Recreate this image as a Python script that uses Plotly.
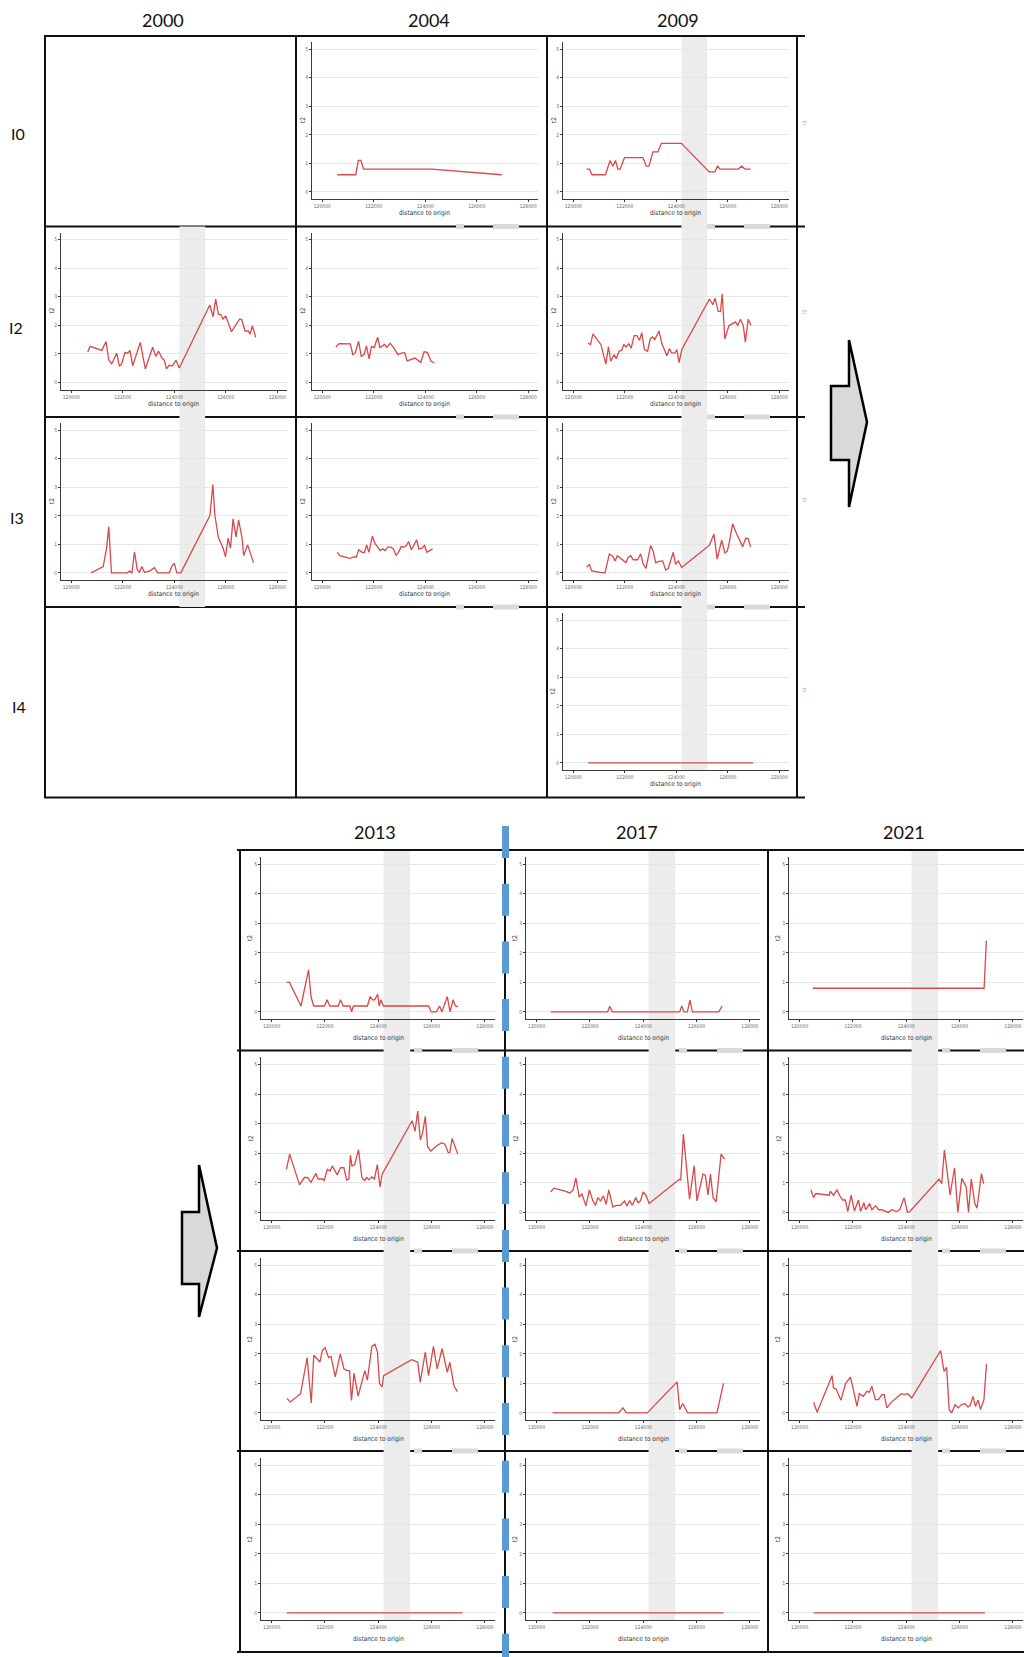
import plotly.graph_objects as go

# ---------------------------------------------------------------------------
# Series: distance to origin (x) and t2 (y), one pair per year / level
# ---------------------------------------------------------------------------
x_2004_i0 = [120580, 121300, 121400, 121500, 121600, 124250, 126970]
t2_2004_i0 = [0.6, 0.6, 1.1, 1.1, 0.8, 0.8, 0.6]

x_2009_i0 = [120520, 120625, 120730, 121250, 121430, 121535, 121640, 121730, 121820, 121990,
             122705, 122835, 122940, 123095, 123290, 123420, 124200, 125280, 125500, 125605,
             125695, 126410, 126545, 126670, 126895]
t2_2009_i0 = [0.8, 0.8, 0.6, 0.6, 1.1, 0.9, 1.1, 0.8, 0.8, 1.2,
              1.2, 0.9, 0.9, 1.4, 1.4, 1.7, 1.7, 0.7, 0.7, 0.9,
              0.8, 0.8, 0.9, 0.8, 0.8]

x_2000_i2 = [120640, 120730, 121185, 121350, 121455, 121570, 121765, 121870, 121955, 122085,
             122190, 122280, 122385, 122680, 122875, 123160, 123285, 123390, 123520, 123610,
             123700, 123805, 123935, 124065, 124195, 125380, 125510, 125610, 125715, 125805,
             125900, 126000, 126220, 126350, 126545, 126620, 126750, 126880, 126945, 127035,
             127165]
t2_2000_i2 = [1.06, 1.26, 1.12, 1.43, 0.79, 0.65, 1.02, 0.56, 0.65, 1.05,
              1.02, 1.12, 0.58, 1.40, 0.47, 1.23, 0.91, 1.10, 0.85, 0.78,
              0.47, 0.60, 0.58, 0.78, 0.50, 2.71, 2.30, 2.92, 2.38, 2.38,
              2.22, 2.33, 1.78, 1.95, 2.22, 2.20, 1.80, 1.80, 1.69, 1.98,
              1.58]

x_2004_i2 = [120525, 120655, 121090, 121185, 121280, 121410, 121515, 121620, 121715, 121820,
             121910, 122020, 122150, 122240, 122415, 122505, 122635, 122770, 122940, 123100,
             123205, 123295, 123600, 123825, 123955, 124085, 124220, 124355]
t2_2004_i2 = [1.24, 1.36, 1.35, 0.97, 1.03, 1.44, 0.91, 0.97, 1.28, 0.82,
              1.26, 1.22, 1.58, 1.22, 1.33, 1.22, 1.37, 1.22, 0.97, 1.03,
              1.03, 0.75, 0.85, 0.70, 1.07, 1.05, 0.75, 0.68]

x_2009_i2 = [120570, 120670, 120760, 121075, 121265, 121365, 121455, 121585, 121670, 121775,
             121870, 121965, 122050, 122155, 122250, 122365, 122470, 122570, 122660, 122760,
             122885, 122990, 123075, 123165, 123330, 123445, 123635, 123735, 123825, 123950,
             124025, 124110, 124215, 125290, 125420, 125505, 125630, 125720, 125785, 125885,
             126050, 126200, 126305, 126390, 126495, 126605, 126685, 126795, 126900]
t2_2009_i2 = [1.38, 1.32, 1.70, 1.32, 0.64, 1.24, 0.74, 0.97, 0.83, 1.09,
              1.12, 1.32, 1.24, 1.35, 1.20, 1.64, 1.64, 1.47, 1.74, 1.15,
              1.09, 1.53, 1.59, 1.50, 1.80, 1.35, 0.93, 1.18, 1.03, 1.03,
              1.15, 0.69, 1.15, 2.92, 2.72, 2.95, 2.49, 2.49, 3.10, 1.52,
              1.99, 2.05, 2.12, 1.99, 2.21, 1.99, 1.41, 2.21, 2.00]

x_2000_i3 = [120765, 121240, 121365, 121455, 121560, 122175, 122265, 122355, 122455, 122560,
             122650, 122740, 122845, 123035, 123230, 123355, 123805, 123910, 124000, 124100,
             124255, 125385, 125500, 125580, 125710, 125900, 125990, 126095, 126185, 126285,
             126400, 126500, 126635, 126695, 126850, 126925, 127080]
t2_2000_i3 = [0.0, 0.22, 0.84, 1.61, 0.0, 0.0, 0.06, 0.0, 0.74, 0.12,
              0.02, 0.22, 0.02, 0.06, 0.18, 0.0, 0.0, 0.24, 0.34, 0.0,
              0.0, 2.01, 3.09, 2.01, 1.26, 0.86, 0.56, 1.22, 0.86, 1.89,
              1.26, 1.85, 1.22, 0.60, 0.98, 0.78, 0.36]

x_2004_i3 = [120580, 120685, 121085, 121240, 121320, 121415, 121550, 121640, 121720, 121810,
             121945, 122050, 122145, 122245, 122340, 122445, 122540, 122670, 122760, 122870,
             122960, 123065, 123175, 123265, 123355, 123465, 123665, 123755, 123860, 123970,
             124060, 124150, 124285]
t2_2004_i3 = [0.72, 0.60, 0.51, 0.57, 0.55, 0.81, 0.72, 0.72, 0.98, 0.72,
              1.29, 1.02, 0.92, 0.78, 0.84, 0.78, 0.90, 0.90, 0.84, 0.62,
              0.72, 0.92, 0.90, 0.96, 1.10, 0.81, 1.16, 0.84, 0.86, 0.96,
              0.72, 0.78, 0.84]

x_2009_i3 = [120520, 120620, 120715, 120845, 121035, 121230, 121400, 121530, 121620, 121710,
             121880, 122045, 122135, 122230, 122330, 122500, 122615, 122720, 122825, 123005,
             123105, 123200, 123330, 123470, 123590, 123690, 123885, 123975, 124080, 124210,
             125280, 125465, 125590, 125765, 125890, 125980, 126060, 126190, 126320, 126435,
             126580, 126695, 126795, 126890]
t2_2009_i3 = [0.19, 0.30, 0.07, 0.04, 0.02, 0.0, 0.66, 0.58, 0.42, 0.60,
              0.48, 0.36, 0.55, 0.60, 0.46, 0.46, 0.66, 0.30, 0.16, 0.96,
              0.75, 0.36, 0.40, 0.42, 0.10, 0.16, 0.72, 0.30, 0.42, 0.19,
              0.96, 1.36, 0.48, 1.15, 0.70, 0.75, 1.06, 1.72, 1.42, 1.18,
              0.91, 1.21, 1.20, 0.90]

x_2009_i4 = [120585, 126990]
t2_2009_i4 = [0.0, 0.0]

x_2013_i0 = [120565, 120670, 121100, 121385, 121475, 121575, 121980, 122080, 122180, 122500,
             122585, 122685, 122935, 123000, 123065, 123595, 123695, 123785, 123870, 123975,
             124035, 124100, 124195, 125885, 125985, 126175, 126300, 126390, 126590, 126695,
             126805, 126895, 126995]
t2_2013_i0 = [1.0, 1.0, 0.2, 1.42, 0.52, 0.2, 0.2, 0.41, 0.2, 0.2,
              0.41, 0.2, 0.2, 0.0, 0.2, 0.2, 0.52, 0.41, 0.41, 0.6,
              0.2, 0.41, 0.2, 0.2, 0.0, 0.0, 0.2, 0.0, 0.52, 0.0,
              0.41, 0.2, 0.18]

x_2017_i0 = [120530, 122660, 122745, 122835, 125365, 125445, 125530, 125655, 125750, 125845,
             126835, 126960]
t2_2017_i0 = [0.0, 0.0, 0.19, 0.0, 0.0, 0.2, 0.0, 0.0, 0.4, 0.0, 0.0, 0.2]

x_2021_i0 = [120490, 126920, 127005]
t2_2021_i0 = [0.8, 0.8, 2.41]

x_2013_i2 = [120555, 120675, 121045, 121230, 121350, 121475, 121660, 121745, 121905, 121970,
             122090, 122190, 122275, 122460, 122585, 122710, 122810, 122895, 122955, 123015,
             123115, 123260, 123385, 123485, 123570, 123655, 123755, 123855, 123965, 124065,
             124150, 125270, 125380, 125480, 125580, 125665, 125765, 125850, 125970, 126155,
             126375, 126500, 126625, 126685, 126770, 126980]
t2_2013_i2 = [1.46, 1.97, 0.93, 1.18, 1.18, 1.02, 1.32, 1.13, 1.13, 1.08,
              1.46, 1.40, 1.57, 1.27, 1.51, 1.51, 1.10, 1.13, 1.93, 1.57,
              1.62, 2.12, 1.18, 1.08, 1.18, 1.10, 1.20, 1.13, 1.62, 0.86,
              1.30, 3.10, 2.74, 3.43, 2.45, 2.70, 3.25, 2.23, 2.07, 2.23,
              2.36, 2.31, 2.02, 2.02, 2.50, 1.98]

x_2017_i2 = [120525, 120650, 121030, 121245, 121370, 121470, 121595, 121700, 121850, 121980,
             122105, 122205, 122295, 122395, 122505, 122605, 122705, 122860, 122985, 123150,
             123300, 123390, 123490, 123590, 123720, 123805, 123895, 123995, 124095, 124220,
             125355, 125405, 125505, 125695, 125735, 125910, 126015, 126240, 126330, 126430,
             126520, 126620, 126735, 126920, 127050]
t2_2017_i2 = [0.69, 0.82, 0.73, 0.66, 0.76, 1.17, 0.52, 0.62, 0.22, 0.76,
              0.40, 0.24, 0.50, 0.39, 0.56, 0.27, 0.76, 0.18, 0.24, 0.24,
              0.39, 0.22, 0.40, 0.24, 0.50, 0.33, 0.39, 0.69, 0.59, 0.30,
              1.12, 1.09, 2.65, 0.82, 0.45, 1.58, 0.39, 1.30, 1.25, 0.59,
              1.30, 0.50, 0.36, 1.97, 1.80]

x_2021_i2 = [120420, 120520, 120610, 121110, 121150, 121275, 121400, 121490, 121615, 121715,
             121805, 121930, 122055, 122205, 122285, 122410, 122475, 122625, 122710, 122850,
             122965, 123065, 123315, 123465, 123630, 123755, 123920, 124045, 124135, 125230,
             125330, 125430, 125645, 125810, 125935, 126085, 126250, 126335, 126440, 126565,
             126655, 126820, 126905]
t2_2021_i2 = [0.77, 0.50, 0.64, 0.58, 0.72, 0.58, 0.77, 0.58, 0.42, 0.42,
              0.03, 0.58, 0.05, 0.42, 0.03, 0.33, 0.09, 0.30, 0.09, 0.22,
              0.09, 0.09, 0.0, 0.09, 0.03, 0.09, 0.50, 0.0, 0.03, 1.13,
              0.97, 2.11, 0.58, 1.51, 0.0, 1.15, 0.85, 0.0, 1.13, 0.33,
              0.14, 1.31, 0.97]

x_2013_i3 = [120570, 120700, 121085, 121295, 121330, 121485, 121580, 121810, 121905, 122005,
             122135, 122230, 122385, 122575, 122710, 122825, 122920, 122995, 123090, 123245,
             123495, 123590, 123760, 123875, 123970, 124045, 124145, 124200, 125250, 125480,
             125575, 125765, 125885, 126070, 126210, 126395, 126590, 126685, 126840, 126970]
t2_2013_i3 = [0.49, 0.37, 0.65, 1.83, 1.87, 0.34, 1.95, 1.72, 2.12, 2.21,
              1.87, 1.91, 1.22, 2.00, 1.49, 1.43, 1.43, 0.42, 1.34, 0.57,
              1.43, 1.11, 2.25, 2.32, 2.06, 1.00, 0.88, 1.26, 1.80, 1.72,
              1.03, 2.06, 1.26, 2.25, 1.49, 2.17, 1.37, 1.72, 0.92, 0.72]

x_2017_i3 = [120600, 123080, 123235, 123365, 124150, 125270, 125365, 125480, 125665, 126765,
             127010]
t2_2017_i3 = [0.0, 0.0, 0.17, 0.0, 0.0, 1.05, 0.11, 0.32, 0.0, 0.0, 1.0]

x_2021_i3 = [120525, 120655, 121215, 121270, 121365, 121550, 121720, 121905, 122020, 122150,
             122240, 122390, 122520, 122615, 122710, 122840, 122955, 123085, 123175, 123270,
             123420, 123550, 123700, 123830, 123925, 124055, 124205, 125290, 125420, 125515,
             125610, 125700, 125835, 125945, 126075, 126205, 126315, 126395, 126505, 126595,
             126695, 126785, 126915, 127010]
t2_2021_i3 = [0.36, 0.02, 1.26, 0.84, 0.81, 0.43, 0.99, 1.21, 0.76, 0.22,
              0.65, 0.56, 0.73, 0.70, 0.90, 0.45, 0.45, 0.62, 0.62, 0.17,
              0.34, 0.45, 0.56, 0.65, 0.62, 0.65, 0.51, 2.11, 1.40, 1.54,
              0.11, 0.0, 0.28, 0.17, 0.28, 0.31, 0.20, 0.25, 0.56, 0.22,
              0.43, 0.11, 0.45, 1.66]

x_2013_i4 = [120570, 127165]
t2_2013_i4 = [0.0, 0.0]
x_2017_i4 = [120600, 127010]
t2_2017_i4 = [0.0, 0.0]
x_2021_i4 = [120525, 126950]
t2_2021_i4 = [0.0, 0.0]

YEARS_TOP = ["2000", "2004", "2009"]
YEARS_BOTTOM = ["2013", "2017", "2021"]
LEVELS = ["I0", "I2", "I3", "I4"]
X_TICKS = [120000, 122000, 124000, 126000, 128000]
T2_TICKS = [0, 1, 2, 3, 4, 5]
BAND = [124200, 125200]          # highlighted stretch of the route

PANELS = [
    ("2004", "I0", x_2004_i0, t2_2004_i0),
    ("2009", "I0", x_2009_i0, t2_2009_i0),
    ("2000", "I2", x_2000_i2, t2_2000_i2),
    ("2004", "I2", x_2004_i2, t2_2004_i2),
    ("2009", "I2", x_2009_i2, t2_2009_i2),
    ("2000", "I3", x_2000_i3, t2_2000_i3),
    ("2004", "I3", x_2004_i3, t2_2004_i3),
    ("2009", "I3", x_2009_i3, t2_2009_i3),
    ("2009", "I4", x_2009_i4, t2_2009_i4),
    ("2013", "I0", x_2013_i0, t2_2013_i0),
    ("2017", "I0", x_2017_i0, t2_2017_i0),
    ("2021", "I0", x_2021_i0, t2_2021_i0),
    ("2013", "I2", x_2013_i2, t2_2013_i2),
    ("2017", "I2", x_2017_i2, t2_2017_i2),
    ("2021", "I2", x_2021_i2, t2_2021_i2),
    ("2013", "I3", x_2013_i3, t2_2013_i3),
    ("2017", "I3", x_2017_i3, t2_2017_i3),
    ("2021", "I3", x_2021_i3, t2_2021_i3),
    ("2013", "I4", x_2013_i4, t2_2013_i4),
    ("2017", "I4", x_2017_i4, t2_2017_i4),
    ("2021", "I4", x_2021_i4, t2_2021_i4),
]

# ---------------------------------------------------------------------------
# Page geometry (pixels)
# ---------------------------------------------------------------------------
FIG_W, FIG_H = 1024, 1657
TOP_COLS = [45, 296, 547, 797]
TOP_ROWS = [36, 226.5, 417, 607, 797.5]
BOT_COLS = [240, 505, 768, 1031]
BOT_ROWS = [850, 1050.5, 1251, 1451, 1652]
X_RANGE = [119600, 128380]
T2_RANGE = [-0.25, 5.25]

RED = "#d94848"
BAND_FILL = "#ececec"
GRID = "#e6e6e6"
AXIS = "#3a3a3a"
NARROW = "Liberation Sans Narrow, DejaVu Sans Condensed, Arial Narrow, sans-serif"
HEAD_FONT = "Lato, Open Sans, sans-serif"


def fx(x):
    return x / FIG_W


def fy(y):
    return 1 - y / FIG_H


def cell_box(year, level):
    r = LEVELS.index(level)
    if year in YEARS_TOP:
        c = YEARS_TOP.index(year)
        return TOP_COLS[c], TOP_COLS[c + 1], TOP_ROWS[r], TOP_ROWS[r + 1], True
    c = YEARS_BOTTOM.index(year)
    return BOT_COLS[c], BOT_COLS[c + 1], BOT_ROWS[r], BOT_ROWS[r + 1], False


fig = go.Figure()
layout = {}
annotations = []
shapes_low = []
shapes_high = []
axis_of_year = {}
plot_bottom = {}

for i, (year, level, xs, ys) in enumerate(PANELS, start=1):
    s = "" if i == 1 else str(i)
    cl, cr, ct, cb, top = cell_box(year, level)
    if top:
        pl, pr, pt, pb = cl + 16, cl + 242, ct + 6, ct + 163
        title_dx, title_dy, ylab_dx = 128, 177, 6.5
        bits = [(160, 168), (197, 223)]
    else:
        pl, pr, pt, pb = cl + 21, cl + 255, ct + 6.7, ct + 169.3
        title_dx, title_dy, ylab_dx = 138, 188, 10
        bits = [(174, 182), (212, 238)]
    axis_of_year.setdefault(year, "x" + s)
    plot_bottom[year] = max(plot_bottom.get(year, 0), pb)

    fig.add_trace(go.Scatter(
        x=xs, y=ys, mode="lines", line=dict(color=RED, width=1.3),
        xaxis="x" + s, yaxis="y" + s, hoverinfo="skip", showlegend=False))

    tickfont = dict(size=5, color="#666666", family=NARROW)
    layout["xaxis" + s] = dict(
        domain=[fx(pl), fx(pr)], range=X_RANGE, anchor="y" + s,
        tickmode="array", tickvals=X_TICKS, ticktext=[str(v) for v in X_TICKS],
        tickfont=tickfont, ticks="outside", ticklen=2, tickwidth=0.8, tickcolor=AXIS,
        showline=True, linecolor=AXIS, linewidth=1, showgrid=False, zeroline=False,
        fixedrange=True)
    layout["yaxis" + s] = dict(
        domain=[fy(pb), fy(pt)], range=T2_RANGE, anchor="x" + s,
        tickmode="array", tickvals=T2_TICKS, tickfont=tickfont,
        ticks="outside", ticklen=2, tickwidth=0.8, tickcolor=AXIS,
        showline=True, linecolor=AXIS, linewidth=1,
        showgrid=True, gridcolor=GRID, gridwidth=1, zeroline=False, fixedrange=True)

    annotations.append(dict(
        x=fx(cl + title_dx), y=fy(ct + title_dy), xref="paper", yref="paper",
        text="distance to origin", showarrow=False, xanchor="center", yanchor="middle",
        font=dict(size=6.5, color="#333333", family=NARROW)))
    annotations.append(dict(
        x=fx(cl + ylab_dx), y=fy((pt + pb) / 2), xref="paper", yref="paper",
        text="t2", textangle=-90, showarrow=False, xanchor="center", yanchor="middle",
        font=dict(size=6.5, color="#333333", family=NARROW)))

    # light grey specks left on the row border under each panel
    if level != "I4" and year != "2000":
        for a, b in bits:
            shapes_high.append(dict(
                type="rect", xref="paper", yref="paper",
                x0=fx(cl + a), x1=fx(cl + b), y0=fy(cb + 2.5), y1=fy(cb - 2.5),
                fillcolor="#dadada", line=dict(width=0), layer="above"))

# horizontal row borders that the grey band runs across
for y in TOP_ROWS[1:]:
    shapes_low.append(dict(type="line", xref="paper", yref="paper",
                           x0=fx(44), x1=fx(805), y0=fy(y), y1=fy(y),
                           line=dict(color="#111111", width=2), layer="below"))
for y in BOT_ROWS[1:]:
    shapes_low.append(dict(type="line", xref="paper", yref="paper",
                           x0=fx(237), x1=fx(FIG_W), y0=fy(y), y1=fy(y),
                           line=dict(color="#111111", width=2), layer="below"))

# grey band marking the highlighted stretch, one per column
band_spans = {
    "2000": (TOP_ROWS[1], TOP_ROWS[3]),
    "2009": (TOP_ROWS[0], plot_bottom["2009"]),
    "2013": (BOT_ROWS[0], plot_bottom["2013"]),
    "2017": (BOT_ROWS[0], plot_bottom["2017"]),
    "2021": (BOT_ROWS[0], plot_bottom["2021"]),
}
for year, (y_top, y_bot) in band_spans.items():
    shapes_low.append(dict(type="rect", xref=axis_of_year[year], yref="paper",
                           x0=BAND[0], x1=BAND[1], y0=fy(y_bot), y1=fy(y_top),
                           fillcolor=BAND_FILL, line=dict(width=0), layer="below"))

# top edges and vertical column borders
shapes_high.append(dict(type="line", xref="paper", yref="paper", x0=fx(44), x1=fx(805),
                        y0=fy(TOP_ROWS[0]), y1=fy(TOP_ROWS[0]),
                        line=dict(color="#111111", width=2), layer="above"))
shapes_high.append(dict(type="line", xref="paper", yref="paper", x0=fx(237), x1=fx(FIG_W),
                        y0=fy(BOT_ROWS[0]), y1=fy(BOT_ROWS[0]),
                        line=dict(color="#111111", width=2), layer="above"))
for x in TOP_COLS:
    shapes_high.append(dict(type="line", xref="paper", yref="paper", x0=fx(x), x1=fx(x),
                            y0=fy(TOP_ROWS[0]), y1=fy(TOP_ROWS[-1]),
                            line=dict(color="#111111", width=2), layer="above"))
for x in BOT_COLS[:3]:
    shapes_high.append(dict(type="line", xref="paper", yref="paper", x0=fx(x), x1=fx(x),
                            y0=fy(BOT_ROWS[0]), y1=fy(BOT_ROWS[-1]),
                            line=dict(color="#111111", width=2), layer="above"))

# blue dashed divider between 2013 and 2017
shapes_high.append(dict(type="line", xref="paper", yref="paper",
                        x0=fx(505.5), x1=fx(505.5), y0=fy(826), y1=fy(FIG_H),
                        line=dict(color="#5b9bd5", width=7, dash="32px,25.7px"),
                        layer="above"))


def arrow_path(pts):
    return "M " + " L ".join(f"{fx(a):.5f},{fy(b):.5f}" for a, b in pts) + " Z"


# block arrows pointing from the first grid to the second
for pts in (
    [(831, 386), (849, 386), (849, 340), (867, 422), (849, 507), (849, 460), (831, 460)],
    [(182, 1212), (199, 1212), (199, 1165), (217, 1248), (199, 1317), (199, 1284), (182, 1284)],
):
    shapes_high.append(dict(type="path", xref="paper", yref="paper", path=arrow_path(pts),
                            fillcolor="#d9d9d9", line=dict(color="#000000", width=2.5),
                            layer="above"))

# column and row headers
for text, x, y in [("2000", 163, 20), ("2004", 429, 20), ("2009", 678, 20),
                   ("2013", 375, 832), ("2017", 637, 832), ("2021", 904, 832)]:
    annotations.append(dict(x=fx(x), y=fy(y), xref="paper", yref="paper", text=text,
                            showarrow=False, xanchor="center", yanchor="middle",
                            font=dict(size=18, color="#111111", family=HEAD_FONT)))
for text, x, y in [("I0", 18, 133), ("I2", 16, 327.5), ("I3", 17, 517.5), ("I4", 19, 706)]:
    annotations.append(dict(x=fx(x), y=fy(y), xref="paper", yref="paper", text=text,
                            showarrow=False, xanchor="center", yanchor="middle",
                            font=dict(size=16, color="#111111", family=HEAD_FONT)))

# clipped axis titles peeking in at the right edge of the first grid
for y in (123, 312, 500, 690):
    annotations.append(dict(x=fx(804), y=fy(y), xref="paper", yref="paper", text="t2",
                            textangle=-90, showarrow=False, xanchor="center",
                            yanchor="middle",
                            font=dict(size=5, color="#999999", family=NARROW)))

fig.update_layout(
    width=FIG_W, height=FIG_H,
    margin=dict(l=0, r=0, t=0, b=0),
    paper_bgcolor="white", plot_bgcolor="rgba(0,0,0,0)",
    showlegend=False,
    shapes=shapes_low + shapes_high,
    annotations=annotations,
    **layout,
)

fig.write_html("out.html")
